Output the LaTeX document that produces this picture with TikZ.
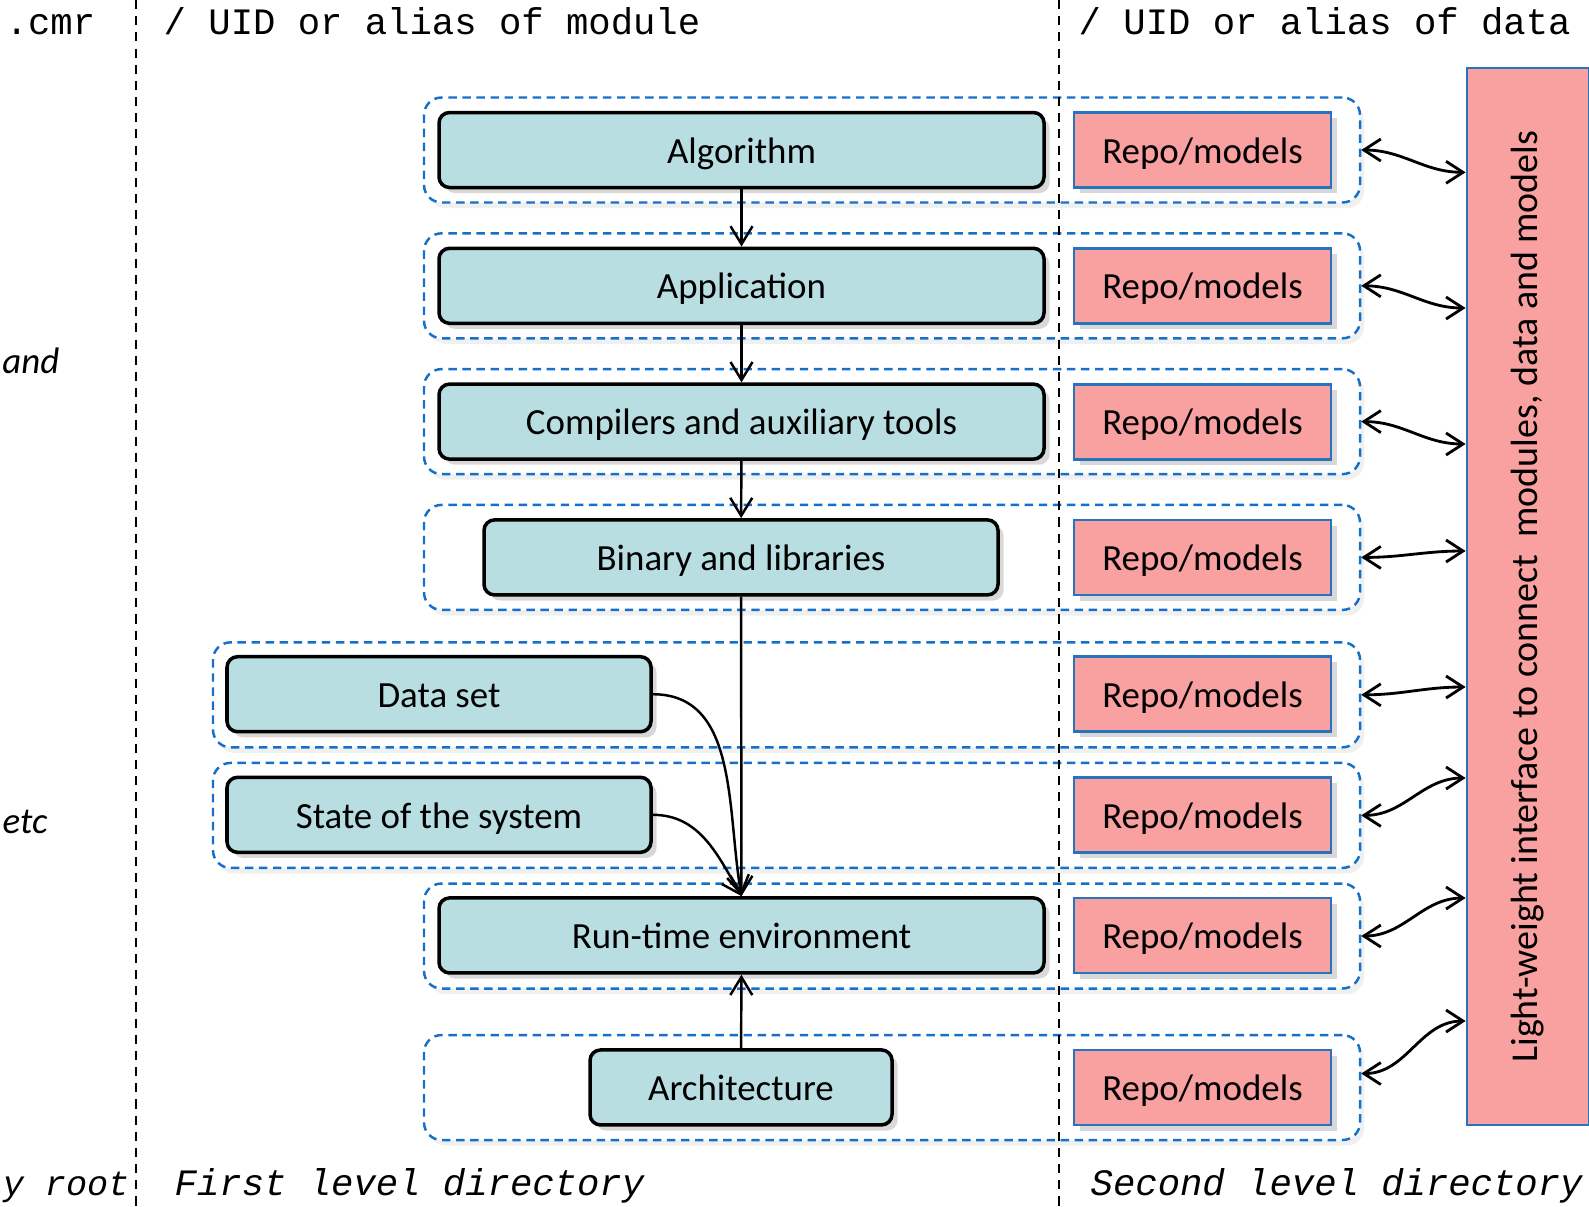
\documentclass[tikz,border=0pt]{standalone}
\usepackage{fontspec}
\setmainfont{Carlito}
\newfontfamily\codefont{Liberation Mono}
\usepackage{xcolor}
\usetikzlibrary{positioning,arrows.meta,shadows}
\definecolor{modteal}{RGB}{184,222,226}
\definecolor{repopink}{RGB}{249,160,160}
\definecolor{repoblue}{RGB}{40,115,190}
\definecolor{grpblue}{RGB}{20,112,200}

\begin{document}
\begin{tikzpicture}[
  every node/.style={font=\fontsize{10.5}{12.6}\selectfont},
  module/.style={draw=black, line width=1pt, fill=modteal, rounded corners=3pt,
                 minimum height=0.75cm, inner sep=0pt, text height=8pt, text depth=0.5pt,
                 drop shadow={shadow xshift=1.6pt, shadow yshift=-1.6pt, opacity=0.3}},
  repo/.style={draw=repoblue, line width=0.8pt, fill=repopink, minimum width=2.57cm,
               minimum height=0.75cm, inner sep=0pt, text height=8pt, text depth=0.5pt,
               drop shadow={shadow xshift=1.6pt, shadow yshift=-1.6pt, opacity=0.3}},
  group/.style={draw=grpblue, dash pattern=on 2.4pt off 1.6pt, line width=0.7pt,
                rounded corners=5pt, fill=white, minimum height=1.05cm, inner sep=0pt,
                drop shadow={shadow xshift=1.2pt, shadow yshift=-1.6pt, opacity=0.12}},
  intf/.style={draw=repoblue, line width=0.8pt, fill=repopink, rotate=90,
               minimum width=10.57cm, minimum height=1.22cm, inner sep=0pt,
               font=\fontsize{10.8}{13}\selectfont},
  flow/.style={-{Straight Barb[length=1.8mm,width=2.2mm]}, line width=0.7pt},
  link/.style={{Straight Barb[length=1.7mm,width=2.2mm]}-{Straight Barb[length=1.7mm,width=2.2mm]},
               line width=0.8pt},
  level/.style={font=\codefont\fontsize{10.6}{12}\selectfont, inner sep=0pt},
  path/.style={font=\codefont\fontsize{10.6}{12}\selectfont\itshape, inner sep=0pt},
  note/.style={font=\fontsize{10.5}{13}\selectfont\itshape, inner sep=0pt},
  divider/.style={dash pattern=on 2.6pt off 2pt, line width=0.6pt}
]
\useasboundingbox (0,0) rectangle (15.89,-12.06);

% dashed groups, one per row
\foreach \i/\x/\w/\y in {1/8.92/9.36/1.50, 2/8.92/9.36/2.858, 3/8.92/9.36/4.216,
                         4/8.92/9.36/5.574, 5/7.865/11.47/6.948, 6/7.865/11.47/8.154,
                         7/8.92/9.36/9.36, 8/8.92/9.36/10.875}
  \node[group, minimum width=\w cm] (g\i) at (\x,-\y) {};

\draw[divider] (1.36,0) -- (1.36,-12.06);
\draw[divider] (10.59,0) -- (10.59,-12.06);

% modules
\node[module, minimum width=6.05cm] (alg) at (7.415,-1.50) {Algorithm};
\node[module, minimum width=6.05cm] (app) at (7.415,-2.858) {Application};
\node[module, minimum width=6.05cm] (comp) at (7.415,-4.216) {Compilers and auxiliary tools};
\node[module, minimum width=5.14cm] (bin) at (7.41,-5.574) {Binary and libraries};
\node[module, minimum width=4.24cm] (data) at (4.39,-6.942) {Data set};
\node[module, minimum width=4.24cm] (state) at (4.39,-8.148) {State of the system};
\node[module, minimum width=6.05cm] (run) at (7.415,-9.354) {Run-time environment};
\node[module, minimum width=3.02cm] (arch) at (7.41,-10.874) {Architecture};

% data side
\foreach \i/\y in {1/1.50, 2/2.858, 3/4.216, 4/5.574, 5/6.942, 6/8.148, 7/9.354, 8/10.874}
  \node[repo] (rp\i) at (12.025,-\y) {Repo/models};

\node[intf] (intf) at (15.28,-5.965) {Light-weight interface to connect\ \ modules, data and models};

\foreach \i/\y in {1/1.723, 2/3.08, 3/4.44, 4/5.51, 5/6.87, 6/7.78, 7/8.98, 8/10.21}
  \coordinate (t\i) at (intf.north |- 0,-\y);

\foreach \i in {1,...,7}
  \draw[link] (g\i.east) to[out=0,in=180] (t\i);
\draw[link] ([yshift=0.14cm]g8.east) to[out=0,in=180] (t8);

% flow between modules
\draw[flow] (alg) -- (app);
\draw[flow] (app) -- (comp);
\draw[flow] (comp) -- (bin);
\draw[flow] (bin) -- (run);
\draw[flow] (data.east) to[out=0,in=100] (run.north);
\draw[flow] (state.east) to[out=0,in=120] (run.north);
\draw[flow] (arch) -- (run);

% headers and footers
\node[level, anchor=base west] (hroot) at (0.05,-0.345) {.cmr};
\node[level, anchor=base west] (hmod) at (1.63,-0.345) {/ UID or alias of module};
\node[level, anchor=base west] (hdata) at (10.78,-0.345) {/ UID or alias of data};
\node[path, font=\codefont\fontsize{10}{12}\selectfont\itshape, anchor=base east] (froot) at (1.30,-11.95) {y root};
\node[path, anchor=base west] (fmod) at (1.74,-11.95) {First level directory};
\node[path, anchor=base west] (fdata) at (10.90,-11.95) {Second level directory};

\node[note, anchor=east] (nand) at (0.60,-3.61) {and};
\node[note, anchor=west] (netc) at (0.02,-8.22) {etc};
\end{tikzpicture}
\end{document}
